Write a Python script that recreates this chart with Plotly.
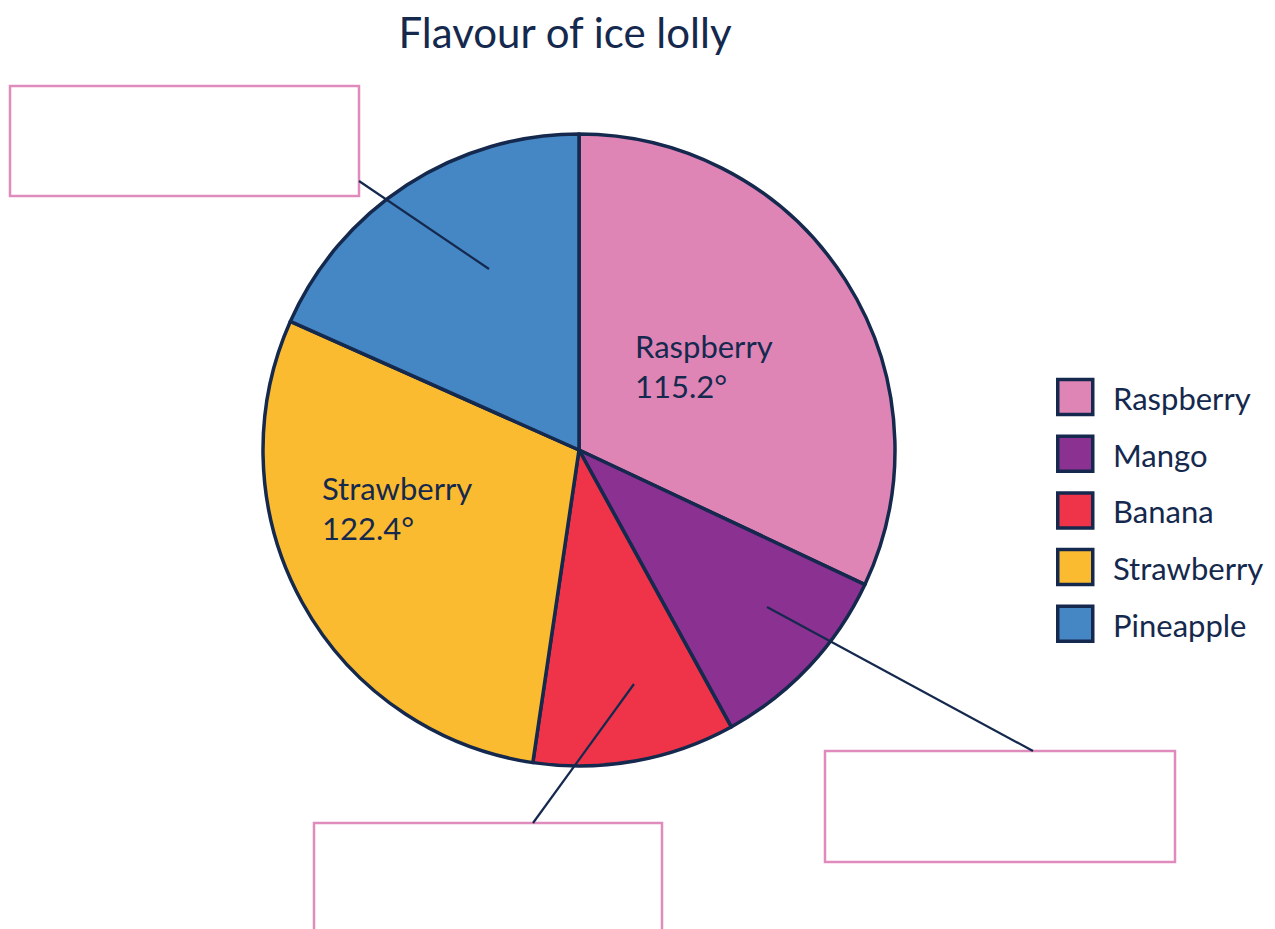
import plotly.graph_objects as go

W, H = 1275, 929
OFF = 8  # page body margin offset in the screenshot

# ---- data ----
flavours = ["Raspberry", "Mango", "Banana", "Strawberry", "Pineapple"]
angles = [115.2, 36.0, 37.2, 105.6, 66.0]          # slice sizes as drawn (degrees)
colours = ["#df85b6", "#8b3192", "#ef344a", "#fbbb30", "#4587c5"]
label_flavours = ["Raspberry", "Strawberry"]
label_angles = ["115.2°", "122.4°"]
title_text = "Flavour of ice lolly"

# ---- style / layout constants ----
NAVY = "#14294d"
PINK = "#e08bbd"
FONT = "Lato"
CX, CY, R = 579, 450, 316           # pie centre / radius in pixels

def px(x):
    return (x - OFF) / W

def py(y):
    return 1 - (y - OFF) / H

fig = go.Figure(
    go.Pie(
        labels=flavours,
        values=angles,
        marker=dict(colors=colours, line=dict(color=NAVY, width=3.5)),
        sort=False,
        direction="clockwise",
        rotation=0,
        textinfo="none",
        hoverinfo="label",
        showlegend=False,
        domain=dict(x=[px(CX - R), px(CX + R)], y=[py(CY + R), py(CY - R)]),
    )
)

shapes = []
annotations = []

# slice labels
label_pos = [(633, 366), (320, 508)]
for name, ang, (lx, ly) in zip(label_flavours, label_angles, label_pos):
    annotations.append(dict(
        x=px(lx), y=py(ly), xref="paper", yref="paper",
        xanchor="left", yanchor="middle", align="left", showarrow=False,
        text=f"{name}<br>{ang}", font=dict(family=FONT, size=31, color=NAVY),
    ))

# custom legend
leg_x0, leg_y0, leg_step, sq = 1056, 397, 56.7, 35
for i, (name, col) in enumerate(zip(flavours, colours)):
    yc = leg_y0 + i * leg_step
    shapes.append(dict(
        type="rect", xref="paper", yref="paper",
        x0=px(leg_x0 + 1.75), x1=px(leg_x0 + 1.75 + sq),
        y0=py(yc + sq / 2), y1=py(yc - sq / 2),
        fillcolor=col, line=dict(color=NAVY, width=3.5),
    ))
    annotations.append(dict(
        x=px(1111), y=py(yc + 1), xref="paper", yref="paper",
        xanchor="left", yanchor="middle", showarrow=False,
        text=name, font=dict(family=FONT, size=31, color=NAVY),
    ))

# blank answer boxes with leader lines
boxes = [(10, 86, 359, 196), (314, 823, 662, 960), (825, 751, 1175, 862)]
leaders = [((489, 269), (359, 181)), ((634, 684), (533, 823)), ((767, 607), (1033, 751))]
for (x0, y0, x1, y1) in boxes:
    shapes.append(dict(
        type="rect", xref="paper", yref="paper",
        x0=px(x0), x1=px(x1), y0=py(y1), y1=py(y0),
        line=dict(color=PINK, width=2.5), fillcolor="rgba(0,0,0,0)",
    ))
for (a, b) in leaders:
    shapes.append(dict(
        type="line", xref="paper", yref="paper",
        x0=px(a[0]), y0=py(a[1]), x1=px(b[0]), y1=py(b[1]),
        line=dict(color=NAVY, width=2.2),
    ))

fig.update_layout(
    width=W, height=H,
    margin=dict(l=0, r=0, t=0, b=0),
    paper_bgcolor="white", plot_bgcolor="white",
    title=dict(text=title_text, x=px(565), xanchor="center",
               y=py(33), yanchor="middle",
               font=dict(family=FONT, size=42, color=NAVY)),
    shapes=shapes,
    annotations=annotations,
)

fig.write_html("out.html")
